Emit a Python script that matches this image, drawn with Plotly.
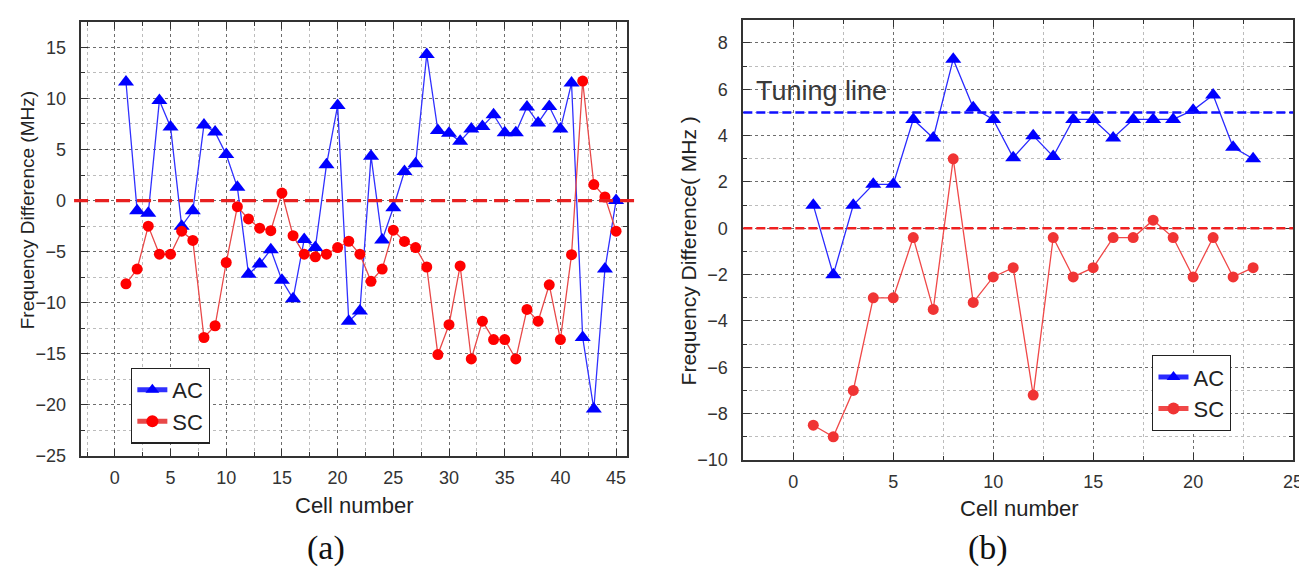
import plotly.graph_objects as go

# ---------------- data: panel (a) ----------------
cells_a = list(range(1, 46))
ac_a = [11.6, -1.0, -1.25, 9.8, 7.2, -2.5, -1.0, 7.4, 6.7, 4.5,
        1.3, -7.2, -6.2, -4.8, -7.8, -9.6, -3.8, -4.6, 3.5, 9.3,
        -11.8, -10.8, 4.35, -3.85, -0.7, 2.85, 3.6, 14.3, 6.85, 6.6,
        5.8, 7.0, 7.25, 8.4, 6.65, 6.65, 9.15, 7.6, 9.2, 7.0,
        11.5, -13.4, -20.4, -6.7, 0.0]
sc_a = [-8.15, -6.7, -2.5, -5.25, -5.25, -3.0, -3.9, -13.4, -12.25, -6.06,
        -0.6, -1.8, -2.7, -2.95, 0.73, -3.43, -5.25, -5.5, -5.25, -4.6,
        -3.98, -5.25, -7.9, -6.7, -2.9, -4.0, -4.6, -6.5, -15.07, -12.15,
        -6.4, -15.5, -11.8, -13.6, -13.6, -15.5, -10.65, -11.8, -8.24, -13.6,
        -5.3, 11.7, 1.57, 0.35, -3.0]

# ---------------- data: panel (b) ----------------
cells_b = list(range(1, 24))
ac_b = [1.0, -2.0, 1.0, 1.9, 1.9, 4.7, 3.9, 7.3, 5.2, 4.7,
        3.05, 4.0, 3.1, 4.7, 4.7, 3.9, 4.7, 4.7, 4.7, 5.1,
        5.75, 3.5, 3.0]
sc_b = [-8.5, -9.0, -7.0, -3.0, -3.0, -0.4, -3.5, 3.0, -3.2, -2.1,
        -1.7, -7.2, -0.4, -2.1, -1.7, -0.4, -0.4, 0.35, -0.4, -2.1,
        -0.4, -2.1, -1.7]

tuning_level = 5
zero_level = 0

FONT = "Liberation Sans, Arial, sans-serif"
W, H = 1307, 573

def px(x):
    return x / W

def py(y):
    return 1 - y / H

fig = go.Figure()

# panel a traces
fig.add_trace(go.Scatter(x=cells_a, y=ac_a, name="AC", mode="lines+markers",
                         line=dict(color="#3030ff", width=1.3),
                         marker=dict(symbol="triangle-up", size=14, color="#0000ff"),
                         xaxis="x", yaxis="y", legend="legend"))
fig.add_trace(go.Scatter(x=cells_a, y=sc_a, name="SC", mode="lines+markers",
                         line=dict(color="#e84848", width=1.3),
                         marker=dict(symbol="circle", size=11, color="#ff0000"),
                         xaxis="x", yaxis="y", legend="legend"))
# panel b traces
fig.add_trace(go.Scatter(x=cells_b, y=ac_b, name="AC", mode="lines+markers",
                         line=dict(color="#2a2aff", width=1.3),
                         marker=dict(symbol="triangle-up", size=14, color="#0000ff"),
                         xaxis="x2", yaxis="y2", legend="legend2"))
fig.add_trace(go.Scatter(x=cells_b, y=sc_b, name="SC", mode="lines+markers",
                         line=dict(color="#f04848", width=1.3),
                         marker=dict(symbol="circle", size=11, color="#f03434"),
                         xaxis="x2", yaxis="y2", legend="legend2"))

def axis_common(major, minor, rng, domain, anchor, standoff):
    return dict(
        range=rng, domain=domain, anchor=anchor,
        tick0=0, dtick=major, ticks="inside", ticklen=7, tickwidth=1.2,
        tickcolor="#333",
        showgrid=True, gridcolor="#6e6e6e", griddash="dot", gridwidth=1,
        minor=dict(tick0=0, dtick=minor, ticks="inside", ticklen=4,
                   tickcolor="#333", showgrid=True, gridcolor="#bcbcbc",
                   griddash="dot", gridwidth=1),
        showline=True, linecolor="#333", linewidth=1.7, mirror="allticks",
        zeroline=False,
        tickfont=dict(family=FONT, size=18, color="#333"),
        ticklabelstandoff=standoff,
    )

dom_xa = [px(74), px(624)]
dom_ya = [py(456), py(14)]
dom_xb = [px(741), px(1295)]
dom_yb = [py(460), py(12)]

fig.update_layout(
    width=W, height=H,
    margin=dict(l=0, r=0, t=0, b=0),
    paper_bgcolor="white", plot_bgcolor="white",
    xaxis=axis_common(5, 2.5, [-3, 46], dom_xa, "y", 5),
    yaxis=axis_common(5, 2.5, [-25, 17.5], dom_ya, "x", 10),
    xaxis2=axis_common(5, 2.5, [-2.5, 25], dom_xb, "y2", 5),
    yaxis2=axis_common(2, 1, [-10, 9], dom_yb, "x2", 10),
    showlegend=True,
    legend=dict(x=px(124), y=py(366), xanchor="left", yanchor="top",
                bgcolor="white", bordercolor="#222", borderwidth=1.3,
                font=dict(family=FONT, size=22, color="#222"),
                tracegroupgap=0, itemsizing="constant"),
    legend2=dict(x=px(1153), y=py(353), xanchor="left", yanchor="top",
                 bgcolor="white", bordercolor="#222", borderwidth=1.3,
                 font=dict(family=FONT, size=22, color="#222"),
                 tracegroupgap=0, itemsizing="constant"),
)

# reference lines
fig.add_shape(type="line", xref="x domain", yref="y", x0=-0.0135, x1=1.016,
              y0=zero_level, y1=zero_level, layer="above",
              line=dict(color="#e82020", width=3.2, dash="14px,7px"))
fig.add_shape(type="line", xref="x2 domain", yref="y2", x0=0, x1=1,
              y0=tuning_level, y1=tuning_level, layer="above",
              line=dict(color="#1010ff", width=2.5, dash="9px,4px"))
fig.add_shape(type="line", xref="x2 domain", yref="y2", x0=0, x1=1,
              y0=zero_level, y1=zero_level, layer="above",
              line=dict(color="#f02020", width=2.5, dash="9px,4px"))

ann = []
ann.append(dict(x=-1.95, y=5.93, xref="x2", yref="y2", text="Tuning line",
                showarrow=False, xanchor="left", yanchor="middle",
                font=dict(family=FONT, size=27, color="#3a3a3a")))
# axis titles
ann.append(dict(x=px(20), y=py(206), xref="paper", yref="paper",
                text="Frequency Difference (MHz)", textangle=-90, showarrow=False,
                xanchor="center", yanchor="middle",
                font=dict(family=FONT, size=19, color="#222")))
ann.append(dict(x=px(686), y=py(247), xref="paper", yref="paper",
                text="Frequency Difference( MHz )", textangle=-90, showarrow=False,
                xanchor="center", yanchor="middle",
                font=dict(family=FONT, size=21, color="#222")))
ann.append(dict(x=px(349), y=py(506), xref="paper", yref="paper",
                text="Cell number", showarrow=False, xanchor="center", yanchor="middle",
                font=dict(family=FONT, size=22, color="#222")))
ann.append(dict(x=px(1019), y=py(509), xref="paper", yref="paper",
                text="Cell number", showarrow=False, xanchor="center", yanchor="middle",
                font=dict(family=FONT, size=22, color="#222")))
ann.append(dict(x=px(320), y=py(550), xref="paper", yref="paper",
                text="(a)", showarrow=False, xanchor="center", yanchor="middle",
                font=dict(family="Liberation Serif, Times New Roman, serif", size=34, color="#111")))
ann.append(dict(x=px(988), y=py(550), xref="paper", yref="paper",
                text="(b)", showarrow=False, xanchor="center", yanchor="middle",
                font=dict(family="Liberation Serif, Times New Roman, serif", size=34, color="#111")))
fig.update_layout(annotations=ann)

fig.write_html("out.html")
